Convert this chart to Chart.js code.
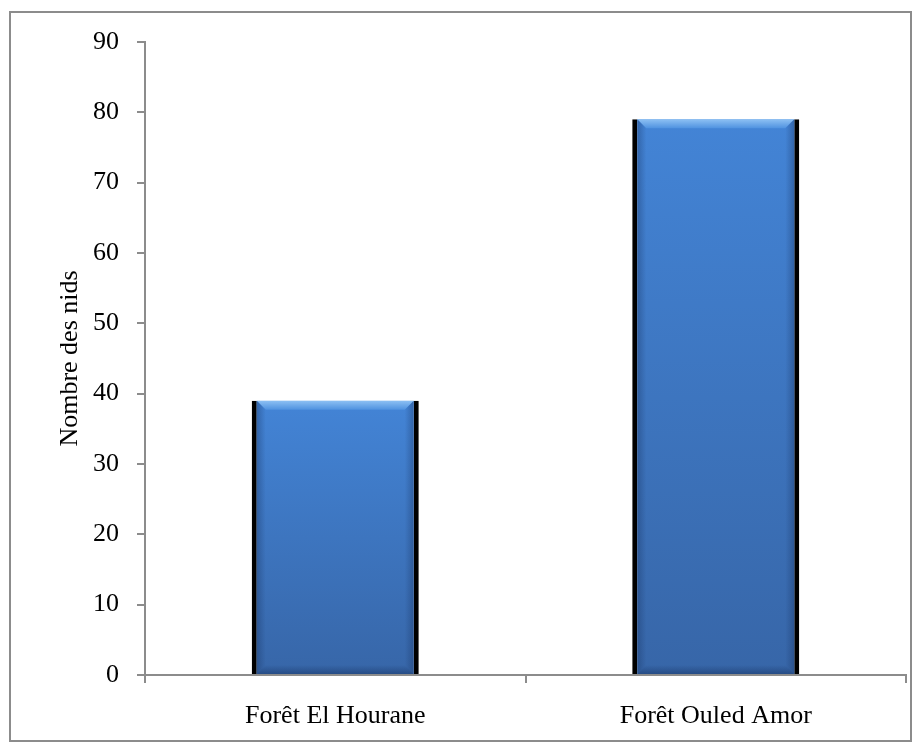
<!DOCTYPE html>
<html>
<head>
<meta charset="utf-8">
<script src="https://cdn.jsdelivr.net/npm/chart.js@4/dist/chart.umd.min.js"></script>
<style>
  html, body { margin: 0; padding: 0; background: #ffffff; }
  #frame {
    position: absolute; left: 9px; top: 11px;
    width: 899px; height: 727px;
    border: 2px solid #8c8c8c;
  }
  #wrap { position: absolute; left: 0; top: 0; width: 921px; height: 751px; }
</style>
</head>
<body>
<div id="frame"></div>
<div id="wrap"><canvas id="chart" width="921" height="751"></canvas></div>
<script>
// Nests counted per forest
const categories = ['Forêt El Hourane', 'Forêt Ouled Amor'];
const nestCounts = [39, 79];
const yTickValues = [0, 10, 20, 30, 40, 50, 60, 70, 80, 90];
const yAxisTitle = 'Nombre des nids';

const FONT = "'Liberation Serif', 'Times New Roman', serif";
const AXIS_GREY = '#8c8c8c';

// Vertical blue gradient for each bar, from its top down to the baseline
function barFill(ctx) {
  if (ctx.type !== 'data') return '#3f7cc8';
  const chart = ctx.chart;
  const ys = chart.scales.y;
  if (!ys) return '#3f7cc8';
  const top = ys.getPixelForValue(ctx.raw);
  const base = ys.getPixelForValue(0);
  if (!isFinite(top) || !isFinite(base) || top === base) return '#3f7cc8';
  const g = chart.ctx.createLinearGradient(0, top, 0, base);
  g.addColorStop(0, '#4384d6');
  g.addColorStop(1, '#3766a8');
  return g;
}

// Bevelled edges painted over each bar, using the bar element geometry
const bevelPlugin = {
  id: 'bevel',
  afterDatasetsDraw(chart) {
    const c = chart.ctx;
    const meta = chart.getDatasetMeta(0);
    meta.data.forEach(bar => {
      const p = bar.getProps(['x', 'y', 'base', 'width'], true);
      const side = 5;
      const l = p.x - p.width / 2 + side;
      const r = p.x + p.width / 2 - side;
      const t = p.y;
      const b = p.base;
      const d = 9;
      c.save();
      // top light band
      let g = c.createLinearGradient(0, t, 0, t + d);
      g.addColorStop(0, '#8dc0f3');
      g.addColorStop(1, '#4f92e0');
      c.fillStyle = g;
      c.beginPath();
      c.moveTo(l, t); c.lineTo(r, t); c.lineTo(r - d, t + d); c.lineTo(l + d, t + d); c.closePath();
      c.fill();
      // left and right soft shading
      g = c.createLinearGradient(l, 0, l + d, 0);
      g.addColorStop(0, 'rgba(20,45,90,0.35)');
      g.addColorStop(1, 'rgba(20,45,90,0)');
      c.fillStyle = g;
      c.beginPath();
      c.moveTo(l, t); c.lineTo(l + d, t + d); c.lineTo(l + d, b - d); c.lineTo(l, b); c.closePath();
      c.fill();
      g = c.createLinearGradient(r, 0, r - d, 0);
      g.addColorStop(0, 'rgba(20,45,90,0.35)');
      g.addColorStop(1, 'rgba(20,45,90,0)');
      c.fillStyle = g;
      c.beginPath();
      c.moveTo(r, t); c.lineTo(r - d, t + d); c.lineTo(r - d, b - d); c.lineTo(r, b); c.closePath();
      c.fill();
      // bottom darker band
      g = c.createLinearGradient(0, b, 0, b - d);
      g.addColorStop(0, 'rgba(25,55,105,0.55)');
      g.addColorStop(1, 'rgba(25,55,105,0)');
      c.fillStyle = g;
      c.beginPath();
      c.moveTo(l, b); c.lineTo(r, b); c.lineTo(r - d, b - d); c.lineTo(l + d, b - d); c.closePath();
      c.fill();
      c.restore();
    });
  }
};

new Chart(document.getElementById('chart'), {
  type: 'bar',
  data: {
    labels: categories,
    datasets: [{
      data: nestCounts,
      backgroundColor: barFill,
      borderColor: '#000000',
      borderWidth: { left: 5, right: 5, top: 0, bottom: 0 },
      borderSkipped: false,
      categoryPercentage: 1,
      barPercentage: 0.439
    }]
  },
  options: {
    responsive: false,
    animation: false,
    events: [],
    layout: { padding: { left: 0, top: 42, right: 15, bottom: 0 } },
    plugins: { legend: { display: false }, tooltip: { enabled: false } },
    scales: {
      x: {
        offset: true,
        afterFit(scale) { scale.height = 76; },
        grid: {
          offset: true, drawOnChartArea: false, drawTicks: true,
          tickLength: 8, color: AXIS_GREY, lineWidth: 2
        },
        border: { display: true, color: AXIS_GREY, width: 2 },
        ticks: { color: '#000', font: { family: FONT, size: 26 }, padding: 18 }
      },
      y: {
        min: 0, max: 90,
        afterFit(scale) { scale.width = 145; },
        afterBuildTicks(scale) { scale.ticks = yTickValues.map(v => ({ value: v })); },
        grid: {
          drawOnChartArea: false, drawTicks: true,
          tickLength: 8, color: AXIS_GREY, lineWidth: 2
        },
        border: { display: true, color: AXIS_GREY, width: 2 },
        ticks: { color: '#000', font: { family: FONT, size: 26 }, padding: 18 },
        title: {
          display: true, text: yAxisTitle, color: '#000',
          font: { family: FONT, size: 26, lineHeight: 1 },
          padding: { top: 57, bottom: 0 }
        }
      }
    }
  },
  plugins: [bevelPlugin]
});
</script>
</body>
</html>
